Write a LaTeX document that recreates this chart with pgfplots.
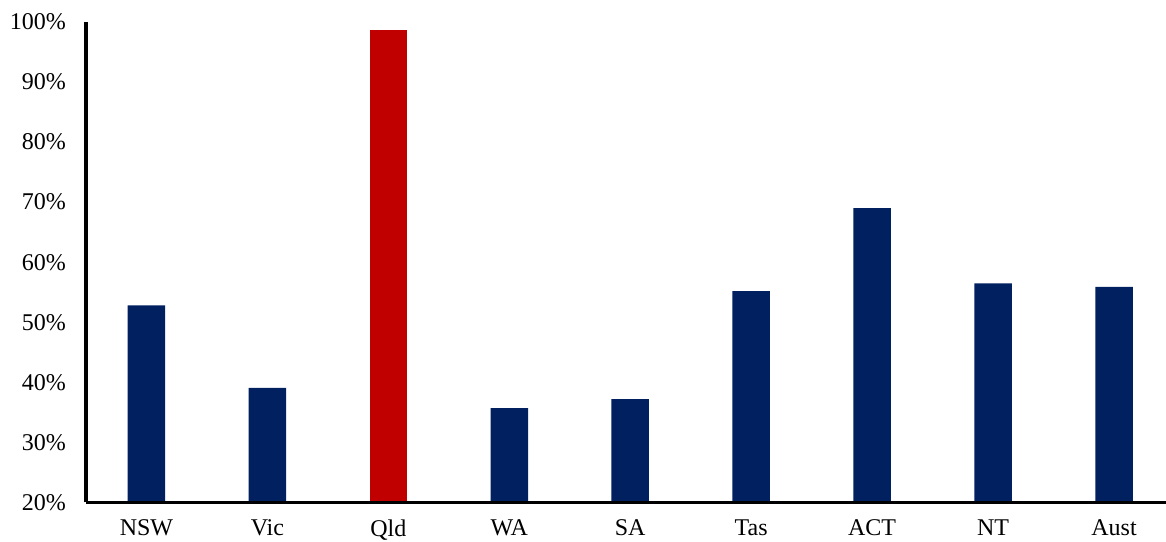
\documentclass[border=0pt]{standalone}
\usepackage{fontspec}
\setmainfont{Liberation Serif}
\usepackage{pgfplots}
\pgfplotsset{compat=1.18}
\definecolor{navy}{RGB}{0,32,96}
\definecolor{qred}{RGB}{192,0,0}
\begin{document}
\begin{tikzpicture}
\begin{axis}[
  name=ax,
  scale only axis,
  width=540pt, height=240.25pt,
  xmin=-0.5, xmax=8.43,
  ymin=20, ymax=100,
  axis lines=left,
  axis line style={-, line width=1.6pt, black},
  axis on top,
  xtick={0,1,2,3,4,5,6,7,8},
  xticklabels={NSW,Vic,Qld,WA,SA,Tas,ACT,NT,Aust},
  ytick={20,30,40,50,60,70,80,90,100},
  yticklabels={20\%,30\%,40\%,50\%,60\%,70\%,80\%,90\%,100\%},
  major tick length=0pt,
  tick style={draw=none},
  ticklabel style={font=\fontsize{12}{14}\selectfont, text=black},
  /pgf/number format/assume math mode=true,
  yticklabel style={xshift=-6.5pt},
  xticklabel style={yshift=-5pt},
  clip=true,
]
\addplot[ybar, bar width=18.75pt, fill=navy, draw=none] coordinates {
  (0,52.8) (1,39.1) (3,35.7) (4,37.2) (5,55.2) (6,69.0) (7,56.5) (8,55.9)
};
\addplot[ybar, bar width=18.75pt, fill=qred, draw=none] coordinates {
  (2,98.6)
};
\end{axis}
\pgfresetboundingbox
\useasboundingbox ([xshift=-43pt,yshift=-19.75pt]ax.south west) rectangle ([yshift=11pt]ax.north east);
\end{tikzpicture}
\end{document}
